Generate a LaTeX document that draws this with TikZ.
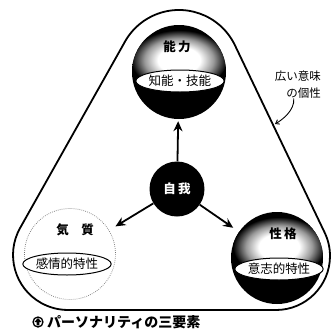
\documentclass[tikz,border=0pt]{standalone}
\usepackage{fontspec}
\setmainfont{Noto Sans CJK JP}
\usetikzlibrary{shapes.geometric,arrows.meta,calc}
% soft white glow on a black sphere
\pgfdeclareradialshading{glow}{\pgfpoint{0bp}{0bp}}{%
  color(0bp)=(white); color(11bp)=(white); color(18bp)=(black!40); color(25bp)=(black); color(50bp)=(black)}
% pale sphere with a grey rim
\pgfdeclareradialshading{palerim}{\pgfpoint{0bp}{0bp}}{%
  color(0bp)=(white); color(25bp)=(white); color(35.5bp)=(black!50); color(50bp)=(black!50)}
\begin{document}
\begin{tikzpicture}[x=1pt,y=-1pt,
  rim/.style={line width=1.8pt},
  ball/.style={circle, inner sep=0pt, minimum size=92pt},
  oval/.style={ellipse, draw=black, line width=1pt, fill=white, inner sep=0pt,
    minimum width=78pt, minimum height=22pt, font=\fontsize{12.5}{13}\selectfont},
  heading/.style={font=\fontsize{12.5}{13}\selectfont\bfseries},
  link/.style={line width=1.8pt, -{Stealth[length=10pt,width=9pt]}},
]
\useasboundingbox (0,0) rectangle (333,333);

% outer rounded triangle
\draw[rim, fill=white]
  (125.0,41.6) -- (20.1,228.0)
  arc[start angle=-150.63, end angle=-270, radius=55]
  -- (276,310)
  arc[start angle=90, end angle=-25.6, radius=54]
  -- (234.9,45.2)
  arc[start angle=-25.6, end angle=-150.63, radius=62] -- cycle;

% spheres
\node[ball, fill=black, minimum size=94pt] (abil) at (179,72) {};
\begin{scope}
  \clip (179,72) circle[radius=47];
  \shade[shading=glow] (179,60) ellipse[x radius=48, y radius=30];
\end{scope}

\node[ball, fill=black] (chara) at (277,258) {};
\begin{scope}
  \clip (277,258) circle[radius=46];
  \shade[shading=glow] (279,247) ellipse[x radius=46, y radius=30];
\end{scope}

\node[ball] (temp) at (70,254) {};
\shade[shading=palerim] (70,254) circle[radius=46];
\draw[black!55, line width=0.7pt, dash pattern=on 0.7pt off 1.3pt] (70,254) circle[radius=45.5];

\node[circle, fill=black, inner sep=0pt, minimum size=55pt, text=white,
  font=\fontsize{12.5}{13}\selectfont\bfseries] (ego) at (177,189) {自\,我};

% headings and ovals
\node[heading] (abilT) at (177,47) {能\,力};
\node[oval, minimum width=76pt] (abilO) at (180,81) {知能・技能};

\node[heading] (tempT) at (75,230) {気\quad 質};
\node[oval, minimum width=80pt] (tempO) at (67,264) {感情的特性};

\node[heading] (charaT) at (283,234) {性\,格};
\node[oval, minimum width=82pt] (charaO) at (279,269) {意志的特性};

% arrows from the ego
\draw[link, shorten >=2pt] (ego) -- (abil);
\draw[link, shorten >=7pt] (ego) -- (temp);
\draw[link, shorten >=7pt] (ego) -- (chara);

% side label with its pointer
\node[align=right, anchor=north east, inner sep=0pt,
  font=\fontsize{11.5}{16.5}\selectfont] (wide) at (321,71) {広い意味\\の個性};
\coordinate (rimpt) at (275,124);
\draw[line width=0.9pt, -{Straight Barb[length=3.5pt,width=5pt]}]
  ([xshift=-4pt]wide.south) .. controls +(1,12) and +(7,-4) .. (rimpt);

% caption
\node[circle, draw=black, line width=1.3pt, inner sep=0pt, minimum size=10pt] (mark) at (38,322) {};
\fill (mark.center) ++(0,-4) -- ++(3.6,4) -- ++(-2.2,0) -- ++(0,3.3) -- ++(-2.8,0)
  -- ++(0,-3.3) -- ++(-2.2,0) -- cycle;
\node[anchor=west, inner sep=0pt, font=\fontsize{14}{14}\selectfont\bfseries]
  (cap) at (47,322) {パーソナリティの三要素};
\end{tikzpicture}
\end{document}
